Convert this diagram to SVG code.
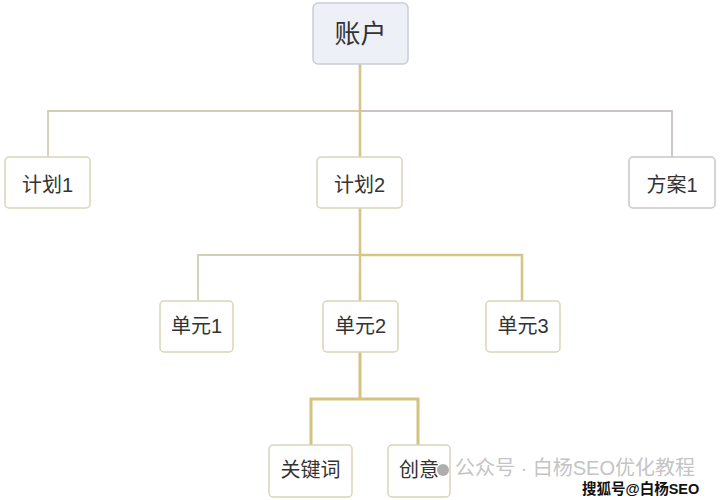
<svg xmlns="http://www.w3.org/2000/svg" width="720" height="500" viewBox="0 0 720 500">
<style>
text{font-family:"Liberation Sans","Noto Sans CJK SC",sans-serif;fill:#333;text-anchor:middle}
.box{fill:#fff;stroke:#d9d5b8;stroke-width:1.5}
.gray{fill:#fff;stroke:#cbc6c6;stroke-width:1.5}
.root{fill:#eef0f8;stroke:#c9ccd9;stroke-width:1.5}
.lbl{font-size:20px}
.thin{fill:none;stroke:#d3ceb2;stroke-width:1.8}
.pink{fill:none;stroke:#cdc2c2;stroke-width:1.8}
.gold{fill:none;stroke:#d6c585;stroke-width:2.6}
.gold3{fill:none;stroke:#d4c280;stroke-width:3}
</style>
<rect width="720" height="500" fill="#fff"/>
<g id="connectors">
<path class="thin" d="M48,157 V111 H360"/>
<path class="pink" d="M360,111 H672 V157"/>
<path class="gold" d="M360,64 V157"/>
<path class="thin" d="M198,301 V255 H360"/>
<path class="gold" d="M360,255 H522 V301"/>
<path class="gold" d="M360,208 V301"/>
<path class="gold3" d="M360,352 V399 M311,445 V399 H418 V445"/>
</g>
<g id="n-account">
<rect class="root" x="313" y="3" width="95" height="61" rx="5"/>
<text x="360.5" y="43" style="font-size:26px">账户</text>
</g>
<g id="n-plan1">
<rect class="box" x="5" y="157" width="85" height="51" rx="4"/>
<text class="lbl" x="47.5" y="192">计划1</text>
</g>
<g id="n-plan2">
<rect class="box" x="317" y="157" width="85" height="51" rx="4"/>
<text class="lbl" x="359.5" y="192">计划2</text>
</g>
<g id="n-scheme1">
<rect class="gray" x="629" y="157" width="86" height="51" rx="4"/>
<text class="lbl" x="672" y="192">方案1</text>
</g>
<g id="n-unit1">
<rect class="box" x="160" y="301" width="73" height="51" rx="4"/>
<text class="lbl" x="196.5" y="333">单元1</text>
</g>
<g id="n-unit2">
<rect class="box" x="323" y="301" width="75" height="51" rx="4"/>
<text class="lbl" x="360.5" y="333">单元2</text>
</g>
<g id="n-unit3">
<rect class="box" x="486" y="301" width="74" height="51" rx="4"/>
<text class="lbl" x="523" y="333">单元3</text>
</g>
<g id="n-keyword">
<rect class="box" x="269" y="445" width="83" height="52" rx="4"/>
<text class="lbl" x="310.5" y="477">关键词</text>
</g>
<g id="n-creative">
<rect class="box" x="388" y="445" width="62" height="52" rx="4"/>
<text class="lbl" x="419" y="477">创意</text>
</g>
<g id="watermark">
<circle cx="443" cy="470" r="6" fill="#9a9a9a" opacity="0.8"/>
<text x="455" y="475" style="font-size:20px;fill:#c4c4c4;text-anchor:start">公众号 · 白杨SEO优化教程</text>
<text x="582" y="494" style="font-size:14.5px;font-weight:bold;fill:#111;stroke:#fff;stroke-width:2.5;paint-order:stroke;text-anchor:start">搜狐号@白杨SEO</text>
</g>
</svg>
